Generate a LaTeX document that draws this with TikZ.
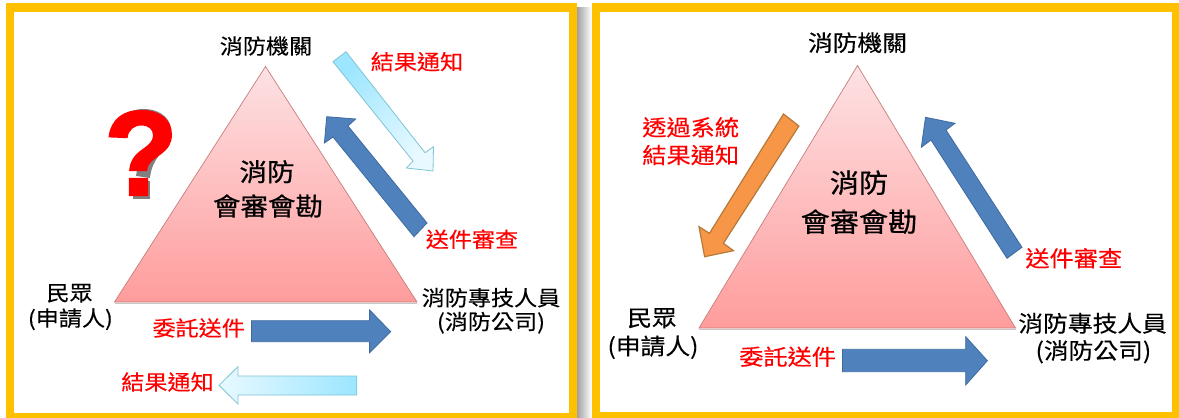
\documentclass[tikz,border=0pt]{standalone}
\usepackage{fontspec}
\newfontfamily\cjk[FakeBold=0.25]{Noto Sans CJK TC}
\newfontfamily\cjkm[FakeBold=0.7]{Noto Sans CJK TC}
\newfontfamily\qfont[BoldFeatures={FakeBold=2}]{Liberation Sans}
\setmainfont{Liberation Sans}
\usetikzlibrary{shadings}
\definecolor{frameor}{HTML}{FFC000}
\definecolor{bluefill}{HTML}{4F81BD}
\definecolor{blueedge}{HTML}{3F6A9F}
\definecolor{lightedge}{HTML}{7FC4D2}
\definecolor{cyanA}{HTML}{9CE6FF}
\definecolor{cyanB}{HTML}{E8F9FF}
\definecolor{orfill}{HTML}{F79646}
\definecolor{oredge}{HTML}{B5793A}
\definecolor{triedge}{HTML}{C97C7C}
\definecolor{triTop}{HTML}{FDE2E4}
\definecolor{triBot}{HTML}{FF9C9C}
\definecolor{shad}{HTML}{999999}
\tikzset{
  lblbase/.style={inner sep=0pt,outer sep=0pt,transform shape,xscale=1.1,align=center,anchor=center},
  blk/.style={lblbase,text=black,font=\cjk\fontsize{21}{21}\selectfont},
  blkR/.style={lblbase,text=black,font=\cjk\fontsize{22.5}{22.5}\selectfont},
  redt/.style={lblbase,text=red,font=\cjk\fontsize{21}{21}\selectfont},
  redR/.style={lblbase,text=red,font=\cjk\fontsize{22}{22}\selectfont},
  mid/.style={lblbase,text=black,font=\cjkm\fontsize{25}{25}\selectfont},
  midR/.style={lblbase,text=black,font=\cjkm\fontsize{26.5}{26.5}\selectfont},
  bluearrow/.style={fill=bluefill,draw=blueedge,line width=.8pt,line join=miter},
  orarrow/.style={fill=orfill,draw=oredge,line width=1.2pt,line join=miter},
  lightarrow/.style={draw=lightedge,line width=.8pt,line join=miter},
  tri/.style={top color=triTop,bottom color=triBot,draw=triedge,line width=.7pt,line join=miter},
  panel/.style={fill=white,draw=none},
  panelband/.style={fill=frameor,draw=none},
}
\begin{document}
\begin{tikzpicture}[x=1pt,y=-1pt]
\useasboundingbox (0,0) rectangle (1179,418);
\fill[white] (0,0) rectangle (1179,418);
% frame shadow
\shade[left color=shad,right color=white] (576,7) rectangle (591.5,418);
% frames
\fill[panelband] (6,3) rectangle (577,418);
\fill[panel] (14,11.5) rectangle (568.5,413);
\fill[panelband] (591.5,3) rectangle (1179,418);
\fill[panel] (599.5,11.5) rectangle (1172,411.5);

% left triangle
\coordinate (lA) at (265.5,66.5);
\coordinate (lB) at (114.5,302);
\coordinate (lC) at (417,302);
\draw[black!22,line width=1.5pt] ([yshift=-1.4pt]lB) -- ([yshift=-1.4pt]lC);
\shade[tri] (lA) -- (lB) -- (lC) -- cycle;

% right triangle
\coordinate (rA) at (857.5,65.5);
\coordinate (rB) at (699,328);
\coordinate (rC) at (1015.5,328);
\draw[black!22,line width=1.5pt] ([yshift=-1.4pt]rB) -- ([yshift=-1.4pt]rC);
\shade[tri] (rA) -- (rB) -- (rC) -- cycle;

% left arrows
\shade[lightarrow,top color=cyanA,bottom color=cyanB,shading angle=40]
  (333,61.7) -- (346,51.7) -- (425,152.7) -- (433.5,146.7) -- (433,171) -- (406.5,168) -- (413,161) -- cycle;
\draw[bluearrow] (427,223) -- (348,126) -- (355.6,119) -- (326.7,116.7) -- (324.4,143) -- (333,137) -- (414,236.7) -- cycle;
\draw[bluearrow] (251.4,320.7) -- (369.6,320.7) -- (369.6,310) -- (390.7,331.7) -- (369.6,352.7) -- (369.6,341.7) -- (251.4,341.7) -- cycle;
\shade[lightarrow,left color=cyanB,right color=cyanA]
  (356.8,376) -- (237.9,376) -- (237.9,366.7) -- (219,385.3) -- (237.9,404) -- (237.9,395) -- (356.8,395) -- cycle;

% right arrows
\draw[orarrow] (783.5,114) -- (798.9,126) -- (723.4,243.3) -- (733.5,250.7) -- (704.6,256.7) -- (699,226.7) -- (709.5,233.3) -- cycle;
\draw[bluearrow] (1022,247.3) -- (946,130) -- (955,123.3) -- (925.5,117.3) -- (921.3,147.3) -- (931,140) -- (1007,258.3) -- cycle;
\draw[bluearrow] (842.4,349.3) -- (965.7,349.3) -- (965.7,336.7) -- (987.4,360.7) -- (965.7,385) -- (965.7,371.7) -- (842.4,371.7) -- cycle;

% question mark: drawn shadow, then the glyph
\draw[black!50,line width=14pt,line cap=butt] (124,129) .. controls (127,111) and (163,112) .. (164,130)
   .. controls (164,147) and (146,150) .. (143,177);
\fill[black!50] (133,181) rectangle (150,199);
\node[inner sep=0pt,text=red,font=\qfont\bfseries\fontsize{120}{120}\selectfont] (q) at (141,153) {?};

% left labels
\node[blk] (lTop) at (266,46) {消防機關};
\node[mid] (lMid1) at (267,171.7) {消防};
\node[mid] (lMid2) at (268,206) {會審會勘};
\node[blk] (lPub1) at (69.6,293.3) {民眾};
\node[blk] (lPub2) at (70.4,319.3) {(申請人)};
\node[blk] (lPro1) at (491,297.7) {消防專技人員};
\node[blk] (lPro2) at (491,322.7) {(消防公司)};
\node[redt] (lRes) at (417,61.7) {結果通知};
\node[redt] (lSend) at (472,239.3) {送件審查};
\node[redt] (lEnt) at (198.7,328) {委託送件};
\node[redt] (lRes2) at (167.5,382) {結果通知};

% right labels
\node[blkR] (rTop) at (857.5,42.7) {消防機關};
\node[midR] (rMid1) at (859,182.7) {消防};
\node[midR] (rMid2) at (859,221.7) {會審會勘};
\node[blkR] (rPub1) at (652,318.3) {民眾};
\node[blkR] (rPub2) at (653,347.3) {(申請人)};
\node[blkR] (rPro1) at (1092.6,323.3) {消防專技人員};
\node[blkR] (rPro2) at (1093.4,351.7) {(消防公司)};
\node[redR] (rEnt) at (787.6,356.7) {委託送件};
\node[redR] (rSend) at (1073.8,258.3) {送件審查};
\node[redR] (rSys1) at (690.7,127.3) {透過系統};
\node[redR] (rSys2) at (690.7,155) {結果通知};
\end{tikzpicture}
\end{document}
